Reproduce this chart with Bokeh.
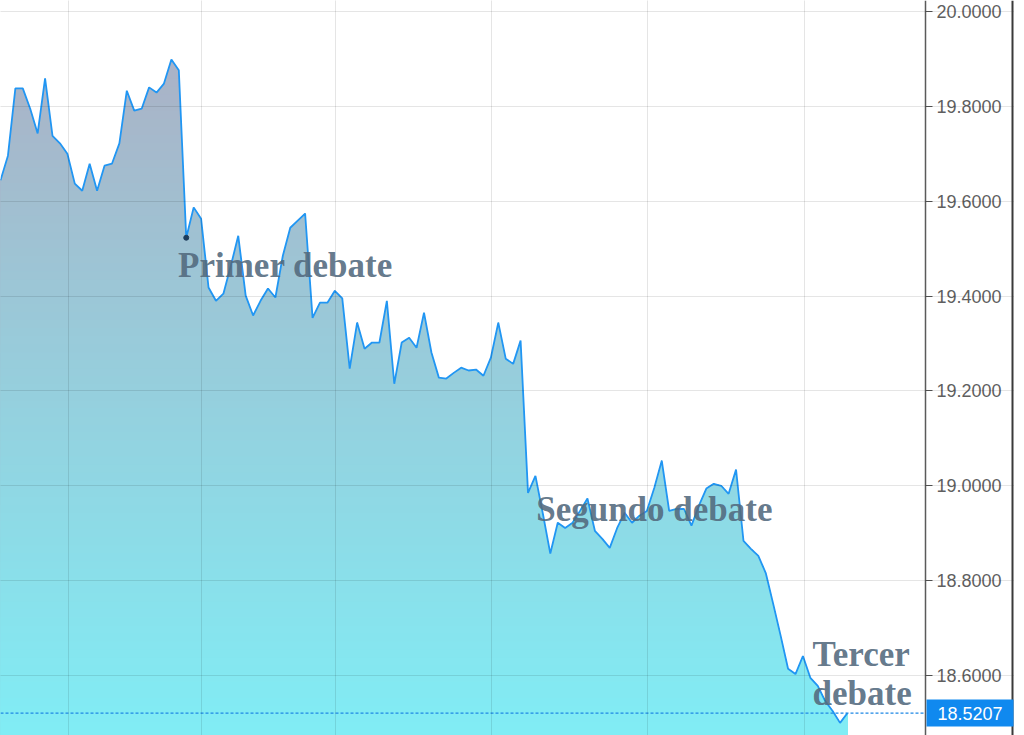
import numpy as np
from bokeh.plotting import figure
from bokeh.models import Range1d, FixedTicker, Span, Label, LinearAxis
from bokeh.embed import file_html
from bokeh.resources import INLINE

# ---------------- data ----------------
rate = [19.644, 19.696, 19.838, 19.838, 19.795, 19.743, 19.859, 19.738, 19.722, 19.700,
        19.637, 19.622, 19.679, 19.622, 19.675, 19.679, 19.722, 19.833, 19.791, 19.795,
        19.840, 19.829, 19.848, 19.899, 19.876, 19.523, 19.587, 19.563, 19.418, 19.390,
        19.405, 19.464, 19.527, 19.401, 19.359, 19.390, 19.416, 19.397, 19.485, 19.544,
        19.559, 19.574, 19.354, 19.386, 19.386, 19.411, 19.395, 19.247, 19.344, 19.289,
        19.302, 19.302, 19.390, 19.215, 19.302, 19.312, 19.291, 19.365, 19.281, 19.228,
        19.226, 19.238, 19.249, 19.243, 19.245, 19.232, 19.270, 19.344, 19.268, 19.257,
        19.306, 18.985, 19.021, 18.941, 18.857, 18.922, 18.911, 18.922, 18.947, 18.973,
        18.905, 18.888, 18.869, 18.911, 18.943, 18.922, 18.937, 18.947, 18.996, 19.053,
        18.947, 18.951, 18.951, 18.916, 18.958, 18.994, 19.004, 19.000, 18.983, 19.034,
        18.884, 18.867, 18.852, 18.816, 18.751, 18.684, 18.614, 18.603, 18.641, 18.595,
        18.578, 18.546, 18.525, 18.500, 18.5207]

y_ticks = [18.6, 18.8, 19.0, 19.2, 19.4, 19.6, 19.8, 20.0]
y_tick_labels = ["18.6000", "18.8000", "19.0000", "19.2000", "19.4000", "19.6000", "19.8000", "20.0000"]

# vertical grid lines (in sample-index units)
x_grid = [9.15, 27.05, 45.1, 66.1, 87.1, 108.2]

# annotations: text, x (index), y (value, baseline)
notes_text = ["Primer debate", "Segundo debate", "Tercer", "debate"]
notes_x = [23.9, 72.1, 109.3, 109.3]
notes_y = [19.464, 18.949, 18.645, 18.563]
marker_idx = 25

# ---------------- layout ----------------
PX = 847.0 / 114.0           # pixels per sample
X_START = 0.0
X_AXIS = 925.0 / PX          # where the value axis sits
X_END = 1014.0 / PX          # right edge of the chart box
Y_START, Y_END = 18.4734, 20.0232

p = figure(frame_width=1014, frame_height=735, output_backend="svg", toolbar_location=None,
           x_range=Range1d(X_START, X_END), y_range=Range1d(Y_START, Y_END),
           y_axis_location=None, x_axis_location=None)
p.min_border = 0
p.outline_line_color = None
p.background_fill_color = "white"
p.border_fill_color = "white"

x = np.arange(len(rate), dtype=float)
y = np.array(rate, dtype=float)


def capped(level):
    xs = [x[0]]
    ys = [y[0]]
    for i in range(len(x) - 1):
        y0, y1 = y[i], y[i + 1]
        if (y0 - level) * (y1 - level) < 0:
            t = (level - y0) / (y1 - y0)
            xs.append(x[i] + t * (x[i + 1] - x[i]))
            ys.append(level)
        xs.append(x[i + 1])
        ys.append(y[i + 1])
    return np.array(xs), np.minimum(np.array(ys), level)


TOP_V, BOT_V = 19.90, 18.473
TOP_C = (170, 178, 198)
BOT_C = (128, 237, 245)


def grad(v):
    t = min(1.0, max(0.0, (TOP_V - v) / (TOP_V - BOT_V)))
    r, g, b = [int(round(a + (c - a) * t)) for a, c in zip(TOP_C, BOT_C)]
    return "#%02x%02x%02x" % (r, g, b)


levels = np.linspace(y.max() + 0.01, 18.40, 90)
for k, lev in enumerate(levels):
    nxt = levels[k + 1] if k + 1 < len(levels) else 18.0
    xs, ys = capped(lev)
    p.varea(x=xs, y1=18.0, y2=ys, fill_color=grad((lev + nxt) / 2.0), fill_alpha=1.0)

p.line(x, y, line_color="#2196f3", line_width=1.8)
p.scatter([x[marker_idx]], [y[marker_idx]], size=5, color="#1d3c5a")

# grids (limited to the plotting area left of the value axis)
for g in p.ygrid:
    g.ticker = FixedTicker(ticks=y_ticks)
    g.bounds = (X_START, X_AXIS)
    g.grid_line_color = "black"
    g.grid_line_alpha = 0.1
    g.level = "guide"
for g in p.xgrid:
    g.ticker = FixedTicker(ticks=x_grid)
    g.grid_line_color = "black"
    g.grid_line_alpha = 0.1
    g.level = "guide"

# value axis on the right, pinned at X_AXIS
ax = LinearAxis(fixed_location=X_AXIS, ticker=FixedTicker(ticks=y_ticks))
ax.major_label_overrides = {t: l for t, l in zip(y_ticks, y_tick_labels)}
ax.axis_line_color = "#5a5a5a"
ax.axis_line_width = 1.5
ax.major_tick_line_color = "#5a5a5a"
ax.major_tick_out = 7
ax.major_tick_in = 0
ax.minor_tick_line_color = None
ax.major_label_standoff = 4
ax.major_label_text_color = "#5f5f5f"
ax.major_label_text_font = "Liberation Sans"
ax.major_label_text_font_size = "18px"
p.add_layout(ax, "right")

# right border of the chart box
p.add_layout(Span(location=1012.0 / PX, dimension="height", line_color="#3a3a3a", line_width=2))

# current value line and box
LAST = rate[-1]
p.segment(x0=[X_START], x1=[X_AXIS], y0=[LAST], y1=[LAST], line_color="#1e88e5",
          line_dash="3 2", line_width=1.3)
p.add_layout(Label(x=X_AXIS, y=LAST, text="%.4f" % LAST, text_align="left",
                   text_baseline="middle", x_offset=1, text_color="white",
                   text_font="Liberation Sans", text_font_size="18px",
                   background_fill_color="#1089ef", background_fill_alpha=1.0,
                   padding=(11, 7)))

for t, nx, ny in zip(notes_text, notes_x, notes_y):
    p.add_layout(Label(x=nx, y=ny, text=t, text_font="Liberation Serif",
                       text_font_style="bold", text_font_size="35px",
                       text_color="#52697d", text_alpha=0.9,
                       text_baseline="alphabetic", text_align="left"))

open("out.html", "w").write(file_html(p, INLINE))
